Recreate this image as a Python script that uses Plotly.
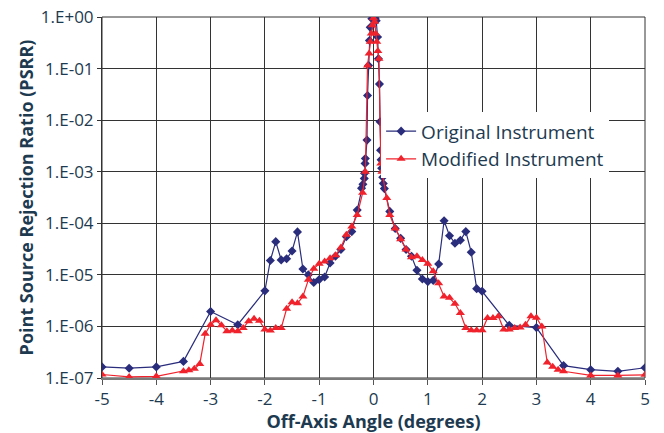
import plotly.graph_objects as go

orig_x = [-5, -4.5, -4, -3.5, -3, -2.5, -2, -1.9, -1.8, -1.7, -1.6, -1.5, -1.4, -1.3, -1.2, -1.1,
          -1.0, -0.9, -0.8, -0.7, -0.6, -0.5, -0.4, -0.3, -0.22, -0.195, -0.17, -0.165, -0.155, -0.15,
          -0.12, -0.11, -0.09, -0.075, -0.06, -0.03, 0, 0.03, 0.05, 0.075, 0.09, 0.11, 0.12, 0.13,
          0.14, 0.15, 0.17, 0.18, 0.2, 0.3, 0.4, 0.5, 0.6, 0.7, 0.8, 0.9, 1.0, 1.1, 1.2, 1.3, 1.4,
          1.5, 1.6, 1.7, 1.8, 1.9, 2.0, 2.5, 3.0, 3.5, 4.0, 4.5, 5.0]
orig_y = [1.64e-7, 1.55e-7, 1.64e-7, 2.1e-7, 1.95e-6, 1.08e-6, 4.9e-6, 1.9e-5, 4.4e-5, 1.95e-5,
          2.05e-5, 2.9e-5, 6.8e-5, 1.3e-5, 1.0e-5, 7.1e-6, 8.1e-6, 9.1e-6, 1.7e-5, 2.3e-5, 3.1e-5,
          5.5e-5, 6.9e-5, 1.8e-4, 4.8e-4, 5.7e-4, 7.4e-4, 9.3e-4, 1.45e-3, 1.8e-3, 4.1e-3, 3.0e-2,
          0.115, 0.35, 0.63, 0.93, 1.0, 0.95, 0.85, 0.41, 0.155, 0.05, 9.3e-3, 2.6e-3, 1.7e-3,
          1.17e-3, 7.8e-4, 5.9e-4, 4.7e-4, 1.7e-4, 7.9e-5, 5.1e-5, 3.1e-5, 2.3e-5, 1.23e-5, 8.3e-6,
          7.4e-6, 7.8e-6, 1.62e-5, 1.12e-4, 5.75e-5, 4.1e-5, 4.7e-5, 6.9e-5, 2.75e-5, 5.4e-6,
          4.8e-6, 1.05e-6, 9.5e-7, 1.74e-7, 1.45e-7, 1.35e-7, 1.58e-7]

mod_x = [-5, -4.5, -4, -3.5, -3.4, -3.3, -3.2, -3.1, -3.0, -2.9, -2.8, -2.7, -2.6, -2.5, -2.4, -2.3,
         -2.2, -2.1, -2.0, -1.9, -1.8, -1.7, -1.6, -1.5, -1.4, -1.3, -1.2, -1.1, -1.0, -0.9, -0.8,
         -0.7, -0.6, -0.5, -0.4, -0.3, -0.2, -0.15, -0.11, -0.08, -0.06, -0.04, -0.02, 0, 0.02, 0.04,
         0.06, 0.08, 0.10, 0.135, 0.155, 0.245, 0.3, 0.4, 0.5, 0.6, 0.7, 0.8, 0.9, 1.0, 1.1, 1.2,
         1.3, 1.4, 1.5, 1.6, 1.7, 1.8, 1.9, 2.0, 2.1, 2.2, 2.3, 2.4, 2.5, 2.6, 2.7, 2.8, 2.9, 3.0,
         3.1, 3.2, 3.3, 3.4, 3.5, 4.0, 4.5, 5.0]
mod_y = [1.17e-7, 1.05e-7, 1.08e-7, 1.35e-7, 1.41e-7, 1.51e-7, 1.86e-7, 7.2e-7, 1.08e-6, 1.32e-6,
         1.05e-6, 8.1e-7, 8.3e-7, 8.1e-7, 9.3e-7, 1.26e-6, 1.41e-6, 1.29e-6, 8.7e-7, 8.3e-7, 9.3e-7,
         9.3e-7, 2.2e-6, 2.95e-6, 2.8e-6, 3.8e-6, 8.0e-6, 1.32e-5, 1.64e-5, 1.82e-5, 2.1e-5, 2.4e-5,
         3.4e-5, 6.0e-5, 8.7e-5, 1.45e-4, 3.9e-4, 1.0e-3, 0.115, 0.195, 0.33, 0.48, 0.69, 0.95, 0.81,
         0.48, 0.33, 0.22, 0.155, 1.45e-3, 1.0e-3, 3.1e-4, 1.45e-4, 7.9e-5, 4.9e-5, 3.1e-5, 2.2e-5,
         2.3e-5, 1.95e-5, 1.64e-5, 1.17e-5, 6.9e-6, 3.8e-6, 3.6e-6, 2.75e-6, 1.82e-6, 9.3e-7,
         8.4e-7, 8.4e-7, 8.4e-7, 1.46e-6, 1.46e-6, 1.58e-6, 8.7e-7, 8.7e-7, 9.3e-7, 9.5e-7, 1.08e-6,
         1.58e-6, 1.48e-6, 1.0e-6, 2.0e-7, 1.66e-7, 1.45e-7, 1.35e-7, 1.12e-7, 1.12e-7, 1.15e-7]

x_ticks = [-5, -4, -3, -2, -1, 0, 1, 2, 3, 4, 5]
y_tickvals = [1e0, 1e-1, 1e-2, 1e-3, 1e-4, 1e-5, 1e-6, 1e-7]
y_ticktext = ["1.E+00", "1.E-01", "1.E-02", "1.E-03", "1.E-04", "1.E-05", "1.E-06", "1.E-07"]

TXT = "#1d3a50"
FONT = "Open Sans"

fig = go.Figure()
fig.add_trace(go.Scatter(
    x=orig_x, y=orig_y, mode="lines+markers", name="Original Instrument",
    line=dict(color="#2a2d7c", width=1.2),
    marker=dict(symbol="diamond", size=7, color="#2a2d7c"),
))
fig.add_trace(go.Scatter(
    x=mod_x, y=mod_y, mode="lines+markers", name="Modified Instrument",
    line=dict(color="#f0232d", width=1.2),
    marker=dict(symbol="triangle-up", size=8, color="#f0232d"),
))

fig.update_layout(
    width=664, height=433,
    margin=dict(l=102, r=19, t=17, b=55),
    paper_bgcolor="white", plot_bgcolor="white",
    font=dict(family=FONT, color=TXT),
    showlegend=True,
    legend=dict(x=0.514, y=0.736, xanchor="left", yanchor="top",
                bgcolor="white", borderwidth=0,
                font=dict(family=FONT, size=19, color=TXT),
                tracegroupgap=0, itemwidth=30),
)
fig.update_xaxes(
    range=[-5, 5], tickvals=x_ticks, ticktext=[str(v) for v in x_ticks],
    showgrid=True, gridcolor="#333333", gridwidth=1,
    showline=True, linecolor="#7a7a7a", linewidth=2,
    ticks="outside", ticklen=5, tickcolor="#555555",
    tickfont=dict(family=FONT, size=17, color=TXT),
    zeroline=False, automargin=False,
    title=dict(text="<b>Off-Axis Angle (degrees)</b>", font=dict(family=FONT, size=18, color=TXT), standoff=7),
)
fig.update_yaxes(
    type="log", range=[-7, 0], tickvals=y_tickvals, ticktext=y_ticktext,
    showgrid=True, gridcolor="#333333", gridwidth=1,
    showline=True, linecolor="#333333", linewidth=1, mirror=False,
    ticks="outside", ticklen=4, tickcolor="#333333",
    tickfont=dict(family=FONT, size=17, color=TXT),
    zeroline=False, automargin=False,
    title=dict(text="<b>Point Source Rejection Ratio (PSRR)</b>", font=dict(family=FONT, size=18, color=TXT), standoff=2),
)
fig.add_shape(type="rect", xref="paper", yref="paper", x0=0, x1=1, y0=0, y1=1,
              line=dict(color="#333333", width=1), layer="below")

fig.write_html("out.html", config={"displayModeBar": False},
               post_script="document.body.style.margin='0';document.body.style.overflow='hidden';")
